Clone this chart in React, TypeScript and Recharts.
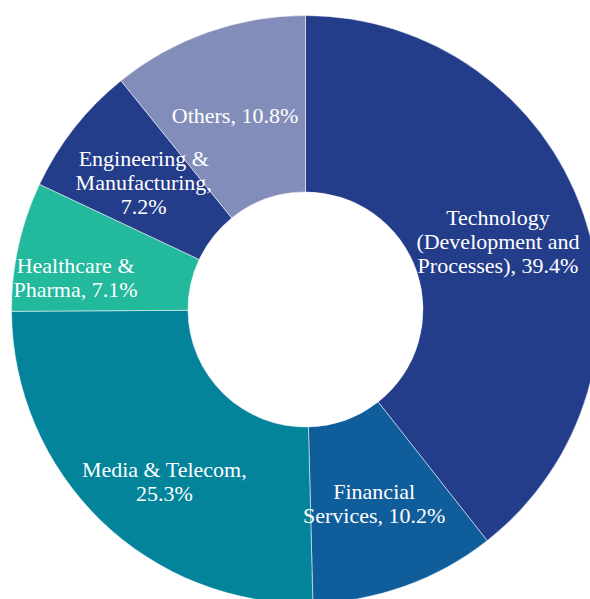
import { PieChart, Pie, Cell } from "recharts";

const sectors = [
  "Technology (Development and Processes)",
  "Financial Services",
  "Media & Telecom",
  "Healthcare & Pharma",
  "Engineering & Manufacturing",
  "Others",
];

const shares = [39.4, 10.2, 25.3, 7.1, 7.2, 10.8];

// how each label is broken into lines (the percentage is appended to the last one)
const labelLines = [
  ["Technology", "(Development and", "Processes),"],
  ["Financial", "Services,"],
  ["Media & Telecom,", ""],
  ["Healthcare &", "Pharma,"],
  ["Engineering &", "Manufacturing,", ""],
  ["Others,"],
];

const colors = ["#233D8B", "#105D9B", "#04849B", "#22B99C", "#233D8B", "#828EB9"];

// small nudges so the labels sit where the original placed them
const labelNudge = [
  [-2, 0],
  [-1, 1],
  [2, 25],
  [-29, 13],
  [0, 1],
  [-2, 1],
];

const data = sectors.map((name, i) => ({ name, value: shares[i] }));

const RAD = Math.PI / 180;

function renderLabel(props: any) {
  const { cx, cy, midAngle, innerRadius, outerRadius, index } = props;
  const r = (innerRadius + outerRadius) / 2;
  const x = cx + r * Math.cos(midAngle * RAD) + labelNudge[index][0];
  const yc = cy - r * Math.sin(midAngle * RAD) + labelNudge[index][1];
  const lines = labelLines[index].slice();
  const last = lines.length - 1;
  const pct = shares[index].toFixed(1) + "%";
  lines[last] = lines[last] ? lines[last] + " " + pct : pct;
  const lh = 24;
  const y0 = yc + 7 - ((lines.length - 1) * lh) / 2;
  return (
    <text
      key={index}
      x={x}
      y={y0}
      fill="#ffffff"
      textAnchor="middle"
      fontFamily="'Liberation Serif', 'Times New Roman', serif"
      fontSize={22}
    >
      {lines.map((t, j) => (
        <tspan key={j} x={x} y={y0 + j * lh}>
          {t}
        </tspan>
      ))}
    </text>
  );
}

export default function App() {
  return (
    <div style={{ position: "absolute", left: 0, top: 0, width: 590, height: 599, background: "#fff" }}>
      <PieChart width={590} height={599}>
        <Pie
          data={data}
          dataKey="value"
          nameKey="name"
          cx={300.5}
          cy={304.5}
          innerRadius={117.5}
          outerRadius={294}
          startAngle={90}
          endAngle={-270}
          stroke="#ffffff"
          strokeWidth={0.5}
          label={renderLabel}
          labelLine={false}
          isAnimationActive={false}
        >
          {data.map((d, i) => (
            <Cell key={d.name} fill={colors[i]} />
          ))}
        </Pie>
      </PieChart>
    </div>
  );
}
